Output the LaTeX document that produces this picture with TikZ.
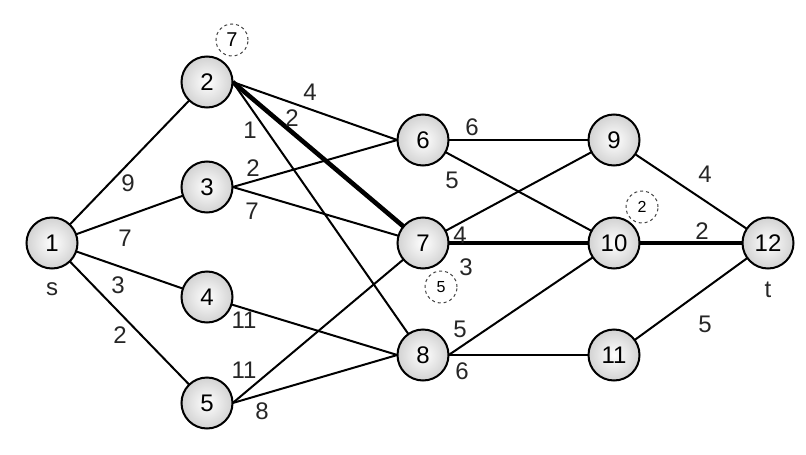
\documentclass[tikz,border=0pt]{standalone}
\usepackage{fontspec}
\setmainfont{Liberation Sans}
\begin{document}
\begin{tikzpicture}[x=1pt,y=-1pt,
  vtx/.style={circle,draw=black,line width=2pt,minimum size=51pt,inner sep=0pt,
    shading=radial,inner color=white,outer color=gray!35,font=\fontsize{24}{26}\selectfont},
  tagc/.style={circle,draw=black!75,dashed,line width=1pt,minimum size=32pt,inner sep=0pt,
    font=\fontsize{16}{18}\selectfont},
  edge/.style={line width=2pt},
  bold/.style={line width=4.6pt},
  lbl/.style={font=\fontsize{24}{26}\selectfont,text=black!85,inner sep=0pt}]
\useasboundingbox (0,0) rectangle (806,455);
% named vertex positions (invisible helpers for connectors)
\begin{scope}[every node/.style={circle,minimum size=51pt,inner sep=0pt}]
\node (n1) at (52,243) {};
\node (n2) at (207,82) {};
\node (n3) at (207,187) {};
\node (n4) at (207,297) {};
\node (n5) at (207,403) {};
\node (n6) at (423,140) {};
\node (n7) at (423,243) {};
\node (n8) at (423,355) {};
\node (n9) at (614,140) {};
\node (n10) at (614,243) {};
\node (n11) at (614,355) {};
\node (n12) at (768,243) {};
\end{scope}
\draw[edge] (n1) -- (n2);
\draw[edge] (n1) -- (n3);
\draw[edge] (n1) -- (n4);
\draw[edge] (n1) -- (n5);
\draw[edge] (n2.east) -- (n6.west);
\draw[edge] (n2.east) -- (n8);
\draw[bold] (n2.east) -- (n7);
\draw[edge] (n3.east) -- (n6.west);
\draw[edge] (n3.east) -- (n7);
\draw[edge] (n4) -- (n8.west);
\draw[edge] (n5.east) -- (n7);
\draw[edge] (n5.east) -- (n8.west);
\draw[edge] (n6) -- (n9);
\draw[edge] (n6) -- (n10);
\draw[edge] (n7) -- (n9);
\draw[bold] (n7) -- (n10);
\draw[edge] (n8.east) -- (n10);
\draw[edge] (n8.east) -- (n11);
\draw[edge] (n9) -- (n12);
\draw[bold] (n10) -- (n12);
\draw[edge] (n11) -- (n12);
% visible vertices on top
\node[vtx] (v1) at (n1) {1};
\node[vtx] (v2) at (n2) {2};
\node[vtx] (v3) at (n3) {3};
\node[vtx] (v4) at (n4) {4};
\node[vtx] (v5) at (n5) {5};
\node[vtx] (v6) at (n6) {6};
\node[vtx] (v7) at (n7) {7};
\node[vtx] (v8) at (n8) {8};
\node[vtx] (v9) at (n9) {9};
\node[vtx] (v10) at (n10) {10};
\node[vtx] (v11) at (n11) {11};
\node[vtx] (v12) at (n12) {12};
% labels
\node[lbl] (l12) at (128,183) {9};
\node[lbl] (l13) at (125,238) {7};
\node[lbl] (l14) at (118,285) {3};
\node[lbl] (l15) at (120,335) {2};
\node[lbl] (l26) at (310,92) {4};
\node[lbl] (l27) at (292,118) {2};
\node[lbl] (l28) at (250,130) {1};
\node[lbl] (l36) at (253,168) {2};
\node[lbl] (l37) at (252,211) {7};
\node[lbl] (l48) at (244,320) {11};
\node[lbl] (l57) at (244,370) {11};
\node[lbl] (l58) at (262,411) {8};
\node[lbl] (l69) at (472,127) {6};
\node[lbl] (l610) at (452,180) {5};
\node[lbl] (l79) at (460,235) {4};
\node[lbl] (l710) at (466,267) {3};
\node[lbl] (l810) at (460,329) {5};
\node[lbl] (l811) at (462,371) {6};
\node[lbl] (l912) at (705,174) {4};
\node[lbl] (l1012) at (702,231) {2};
\node[lbl] (l1112) at (705,324) {5};
\node[lbl] (ls) at (52,289) {s};
\node[lbl] (lt) at (768,290) {t};
% dashed tags
\node[tagc,font=\fontsize{20}{22}\selectfont] (d7) at (232,40) {7};
\node[tagc] (d2) at (642,207) {2};
\node[tagc] (d5) at (441,287) {5};
\end{tikzpicture}
\end{document}
